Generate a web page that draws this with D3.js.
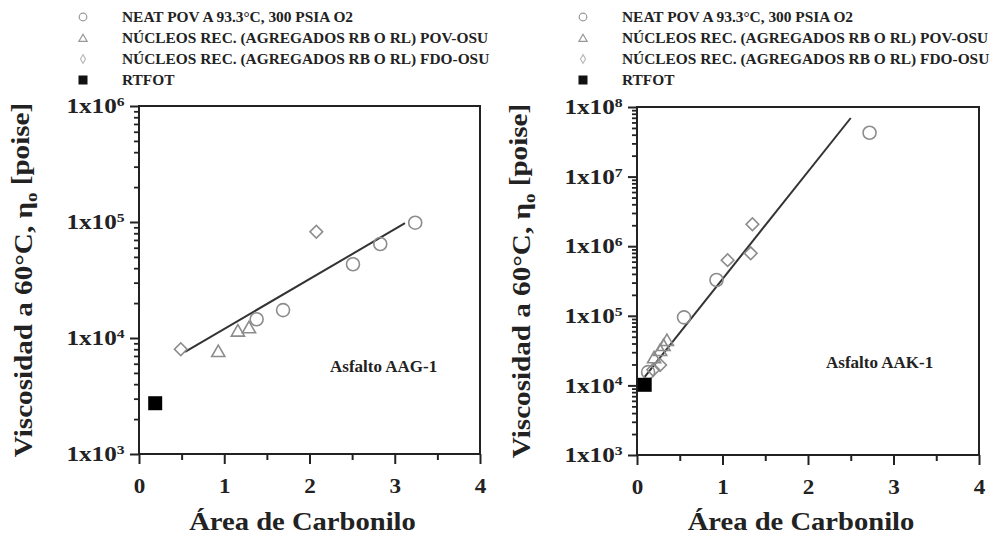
<!DOCTYPE html>
<html>
<head>
<meta charset="utf-8">
<script src="https://d3js.org/d3.v7.min.js"></script>
<title>Viscosidad vs Área de Carbonilo</title>
</head>
<style>
body { margin: 0; background: #fff; }
svg { display: block; }
text { font-family: "Liberation Serif", "Times New Roman", serif; font-weight: bold; fill: #222; }
</style>
<body>
<svg width="997" height="543"></svg>
</body>
<script>

// legend entries (same for both panels)
let legendLabels = [
  "NEAT POV A 93.3°C, 300 PSIA O2",
  "NÚCLEOS REC. (AGREGADOS RB O RL) POV-OSU",
  "NÚCLEOS REC. (AGREGADOS RB O RL) FDO-OSU",
  "RTFOT"
];
let xTicks = [0, 1, 2, 3, 4];

// Asfalto AAG-1  [area de carbonilo, viscosidad]
let aagNeat  = [[1.38, 14500], [1.69, 17400], [2.51, 43200], [2.83, 64600], [3.24, 98600]];
let aagPov   = [[0.93, 7470], [1.16, 11200], [1.29, 11960]];
let aagFdo   = [[0.49, 8000], [2.08, 82400]];
let aagRtfot = [[0.19, 2740]];
let aagFit   = [[0.54, 7600], [3.12, 97600]];

// Asfalto AAK-1
let aakNeat  = [[0.13, 15500], [0.55, 95000], [0.93, 327000], [2.72, 42700000]];
let aakPov   = [[0.20, 24000], [0.27, 30500], [0.31, 36000], [0.35, 42500]];
let aakFdo   = [[0.19, 16800], [0.27, 19600], [1.06, 630000], [1.33, 790000], [1.35, 2070000]];
let aakRtfot = [[0.09, 10200]];
let aakFit   = [[0.09, 13300], [2.50, 69500000]];

let svg = d3.select("svg");
let grey = "#8c8c8c";

function supLabel(sel, v) {
  let e = Math.round(Math.log10(v));
  sel.text(null);
  sel.append("tspan").text("1x10");
  sel.append("tspan").attr("dy", "-0.55em").attr("font-size", "0.62em").text(e);
}

function drawLegend(x0) {
  let rowY = [17, 38, 59, 80];
  let g = svg.append("g");
  legendLabels.forEach((lab, i) => {
    let y = rowY[i];
    if (i === 0) {
      g.append("circle").attr("cx", x0).attr("cy", y).attr("r", 3.8)
        .attr("fill", "none").attr("stroke", "#999").attr("stroke-width", 1.2);
    } else if (i === 1) {
      g.append("path").attr("d", d3.symbol(d3.symbolTriangle, 30)())
        .attr("transform", `translate(${x0},${y + 1})`)
        .attr("fill", "none").attr("stroke", "#999").attr("stroke-width", 1.2);
    } else if (i === 2) {
      g.append("path").attr("d", d3.symbol(d3.symbolDiamond, 22)())
        .attr("transform", `translate(${x0},${y})`)
        .attr("fill", "none").attr("stroke", "#bbb").attr("stroke-width", 1.2);
    } else {
      g.append("rect").attr("x", x0 - 4.5).attr("y", y - 4.5).attr("width", 9).attr("height", 9)
        .attr("fill", "#111");
    }
    g.append("text").attr("x", x0 + 39).attr("y", y + 5)
      .attr("font-size", "15.4px").text(lab);
  });
}

function drawPanel(p) {
  let x = d3.scaleLinear().domain([0, 4]).range([p.left, p.right]);
  let y = d3.scaleLog().domain(p.yDomain).range([p.bottom, p.top]);
  let g = svg.append("g");

  // frame
  g.append("rect").attr("x", p.left).attr("y", p.top)
    .attr("width", p.right - p.left).attr("height", p.bottom - p.top)
    .attr("fill", "none").attr("stroke", "#222").attr("stroke-width", 2);

  // x axis
  let xMinor = [0.5, 1.5, 2.5, 3.5];
  g.append("g").attr("transform", `translate(0,${p.bottom})`)
    .call(d3.axisBottom(x).tickValues(xMinor).tickSize(6).tickFormat(""))
    .call(a => a.select(".domain").remove())
    .call(a => a.selectAll("line").attr("stroke", "#222").attr("stroke-width", 2));
  g.append("g").attr("transform", `translate(0,${p.bottom})`)
    .call(d3.axisBottom(x).tickValues(xTicks).tickSize(10).tickPadding(14).tickFormat(d3.format("d")))
    .call(a => a.select(".domain").remove())
    .call(a => a.selectAll("line").attr("stroke", "#222").attr("stroke-width", 2))
    .call(a => a.selectAll("text").attr("font-size", "21px").attr("font-family", null)
      .attr("fill", "#222").attr("transform", "scale(1.1,1)"));

  // y axis
  let majors = [];
  for (let e = Math.log10(p.yDomain[0]); e <= Math.log10(p.yDomain[1]); e++) majors.push(Math.pow(10, e));
  let minors = [];
  majors.slice(0, -1).forEach(m => { for (let k = 2; k < 10; k++) minors.push(m * k); });
  g.append("g").attr("transform", `translate(${p.left},0)`)
    .call(d3.axisLeft(y).tickValues(minors).tickSize(5).tickFormat(""))
    .call(a => a.select(".domain").remove())
    .call(a => a.selectAll("line").attr("stroke", "#222").attr("stroke-width", 1.8));
  g.append("g").attr("transform", `translate(${p.left},0)`)
    .call(d3.axisLeft(y).tickValues(majors).tickSize(9).tickPadding(3).tickFormat(""))
    .call(a => a.select(".domain").remove())
    .call(a => a.selectAll("line").attr("stroke", "#222").attr("stroke-width", 2))
    .call(a => a.selectAll("text").attr("font-size", "21px").attr("font-family", null)
      .attr("fill", "#222").attr("transform", "scale(1.2,1)")
      .each(function(d) { supLabel(d3.select(this), d); }));

  // axis titles
  g.append("text")
    .attr("transform", `translate(${(p.left + p.right) / 2 - 7},530) scale(1.1,1)`)
    .attr("text-anchor", "middle").attr("font-size", "26px").text("Área de Carbonilo");
  let ty = g.append("text")
    .attr("transform", `translate(${p.left - 107},${(p.top + p.bottom) / 2}) rotate(-90) scale(1.12,1)`)
    .attr("text-anchor", "middle").attr("font-size", "26px");
  ty.append("tspan").text("Viscosidad a 60°C, η");
  ty.append("tspan").attr("dy", "0.3em").attr("font-size", "0.65em").text("o");
  ty.append("tspan").attr("dy", "-0.3em").text(" [poise]");

  // fit line
  g.append("path").datum(p.fit)
    .attr("d", d3.line().x(d => x(d[0])).y(d => y(d[1])))
    .attr("fill", "none").attr("stroke", "#333").attr("stroke-width", 2);

  // markers
  g.selectAll(null).data(p.neat).enter().append("circle")
    .attr("cx", d => x(d[0])).attr("cy", d => y(d[1])).attr("r", 6.5)
    .attr("fill", "none").attr("stroke", grey).attr("stroke-width", 1.6);
  g.selectAll(null).data(p.pov).enter().append("path")
    .attr("d", d3.symbol(d3.symbolTriangle, 75)())
    .attr("transform", d => `translate(${x(d[0])},${y(d[1])})`)
    .attr("fill", "none").attr("stroke", grey).attr("stroke-width", 1.6);
  g.selectAll(null).data(p.fdo).enter().append("path")
    .attr("d", d3.symbol(d3.symbolSquare, 80)())
    .attr("transform", d => `translate(${x(d[0])},${y(d[1])}) rotate(45)`)
    .attr("fill", "none").attr("stroke", grey).attr("stroke-width", 1.6);
  g.selectAll(null).data(p.rtfot).enter().append("rect")
    .attr("x", d => x(d[0]) - 7).attr("y", d => y(d[1]) - 7)
    .attr("width", 14).attr("height", 14).attr("fill", "#000");

  g.append("text").attr("x", p.labelX).attr("y", p.labelY)
    .attr("font-size", "17px").text(p.label);
}

drawLegend(83);
drawLegend(583);

drawPanel({
  left: 139, right: 480, top: 106, bottom: 454, yDomain: [1e3, 1e6],
  neat: aagNeat, pov: aagPov, fdo: aagFdo, rtfot: aagRtfot, fit: aagFit,
  label: "Asfalto AAG-1", labelX: 330, labelY: 372
});
drawPanel({
  left: 637, right: 979, top: 107, bottom: 455, yDomain: [1e3, 1e8],
  neat: aakNeat, pov: aakPov, fdo: aakFdo, rtfot: aakRtfot, fit: aakFit,
  label: "Asfalto AAK-1", labelX: 826, labelY: 368
});

</script>
</html>
